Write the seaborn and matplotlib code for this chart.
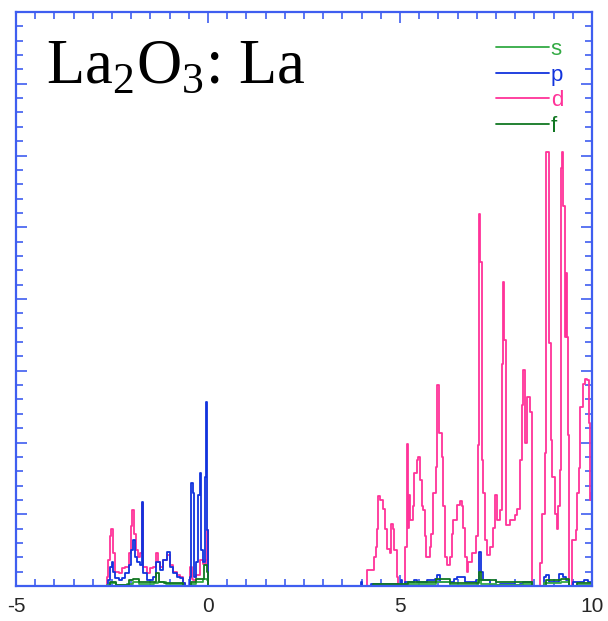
import numpy as np
import pandas as pd
import seaborn as sns
import matplotlib
matplotlib.use("Agg")
import matplotlib.pyplot as plt
from matplotlib.ticker import MultipleLocator

# ---------------- data ----------------
d_energy = [-2.66, -2.62, -2.60, -2.56, -2.52, -2.48, -2.42, -2.33, -2.25, -2.16, -2.07, -2.01,
            -1.97, -1.93, -1.88, -1.81, -1.77, -1.73, -1.69, -1.59, -1.51, -1.42, -1.35, -1.29,
            -1.25, -1.16, -1.07, -0.99, -0.90, -0.81, -0.73, -0.64, -0.60, -0.47, -0.42, -0.38,
            -0.30, -0.22, -0.12, -0.06, -0.03, 0.00,
            4.13, 4.31, 4.37, 4.39, 4.44, 4.48, 4.55, 4.61, 4.65, 4.74, 4.76, 4.81, 4.84, 4.91,
            4.96, 5.13, 5.17, 5.22, 5.23, 5.26, 5.35, 5.36, 5.43, 5.48, 5.52, 5.56, 5.61, 5.65,
            5.69, 5.78, 5.82, 5.87, 5.94, 5.97, 6.02, 6.09, 6.13, 6.17, 6.22, 6.29, 6.35, 6.39,
            6.48, 6.55, 6.61, 6.65, 6.69, 6.74, 6.78, 6.87, 6.98, 7.02, 7.06, 7.09, 7.13, 7.17,
            7.21, 7.27, 7.34, 7.41, 7.47, 7.52, 7.60, 7.65, 7.69, 7.71, 7.76, 7.87, 8.00, 8.04,
            8.12, 8.17, 8.21, 8.26, 8.30, 8.39, 8.43, 8.45, 8.64, 8.71, 8.78, 8.80, 8.88, 8.93,
            8.97, 9.04, 9.10, 9.12, 9.17, 9.18, 9.23, 9.25, 9.30, 9.32, 9.36, 9.38, 9.41, 9.47,
            9.58, 9.62, 9.67, 9.70, 9.77, 9.82, 9.88, 9.91, 9.94, 9.98, 10.0]
d_dos = [0.00, 0.13, 0.36, 0.69, 0.80, 0.46, 0.20, 0.18, 0.25, 0.27, 0.46, 0.83,
         1.06, 0.73, 0.50, 0.41, 0.46, 1.15, 0.27, 0.18, 0.25, 0.27, 0.46, 0.34,
         0.27, 0.36, 0.43, 0.29, 0.20, 0.15, 0.13, 0.04, 0.00, 0.27, 0.10, 0.08,
         0.15, 0.36, 0.30, 0.36, 0.78, 0.00,
         0.22, 0.41, 0.55, 0.80, 1.25, 1.20, 1.08, 0.80, 0.52, 0.46, 0.87, 0.80, 0.50, 0.13,
         0.00, 0.55, 1.98, 0.81, 1.27, 0.92, 1.11, 1.57, 1.76, 1.80, 1.48, 1.11, 1.06, 0.69,
         0.41, 0.55, 0.73, 1.29, 1.66, 2.80, 2.13, 1.80, 1.11, 0.41, 0.29, 0.41, 0.73, 0.92,
         1.13, 1.18, 1.11, 0.81, 0.41, 0.20, 0.34, 0.46, 0.69, 1.97, 5.19, 4.52, 1.76, 1.29,
         0.64, 0.43, 0.55, 0.81, 1.27, 0.92, 1.06, 3.10, 4.24, 3.43, 0.85, 0.92, 0.99, 1.08,
         1.76, 2.52, 3.01, 1.99, 2.64, 2.43, 0.57, 0.00, 0.32, 1.01, 1.85, 6.05, 3.38, 2.03,
         1.52, 1.01, 0.80, 1.11, 1.62, 5.82, 6.05, 5.29, 3.47, 4.36, 3.47, 2.10, 0.00, 0.64,
         0.78, 1.29, 1.64, 2.50, 2.82, 2.89, 2.87, 2.27, 1.20, 1.29, 1.29]

p_energy = [-2.66, -2.60, -2.55, -2.51, -2.47, -2.42, -2.33, -2.25, -2.16, -2.07, -2.00, -1.95,
            -1.91, -1.86, -1.77, -1.73, -1.69, -1.59, -1.42, -1.35, -1.25, -1.16, -1.07, -0.99,
            -0.90, -0.81, -0.73, -0.64, -0.60, -0.47, -0.44, -0.40, -0.36, -0.31, -0.27, -0.22,
            -0.18, -0.12, -0.08, -0.05, -0.02, 0.01,
            3.98, 4.02, 4.25, 4.96, 5.02, 5.05, 5.13, 5.36, 5.45, 5.70, 5.90, 5.97, 6.05, 6.40,
            6.48, 6.60, 6.69, 6.98, 7.06, 7.10, 7.17, 7.34, 7.60, 8.00, 8.12, 8.21, 8.45, 8.76,
            8.80, 8.88, 9.15, 9.25, 9.32, 9.41, 9.50, 9.80, 9.90, 10.0]
p_dos = [0.00, 0.08, 0.27, 0.34, 0.20, 0.11, 0.08, 0.11, 0.18, 0.29, 0.50, 0.64,
         0.41, 0.34, 0.29, 1.17, 0.18, 0.08, 0.13, 0.34, 0.22, 0.36, 0.48, 0.27,
         0.18, 0.13, 0.11, 0.04, 0.00, 0.13, 1.43, 1.29, 0.13, 0.34, 1.27, 1.57,
         0.50, 0.34, 1.52, 2.57, 0.78, 0.00,
         0.05, 0.00, 0.03, 0.00, 0.08, 0.00, 0.06, 0.08, 0.06, 0.08, 0.10, 0.15, 0.06, 0.10,
         0.13, 0.13, 0.06, 0.08, 0.48, 0.20, 0.08, 0.02, 0.03, 0.02, 0.03, 0.05, 0.00, 0.13,
         0.15, 0.05, 0.17, 0.13, 0.08, 0.00, 0.05, 0.08, 0.05, 0.05]

s_energy = [-2.62, -2.55, -2.40, -2.10, -1.95, -1.80, -1.40, -1.30, -1.10, -0.64,
            -0.45, -0.30, -0.12, -0.03, 0.00,
            4.30, 5.10, 5.95, 6.30, 7.04, 7.12, 7.50, 8.20, 8.45, 8.75, 9.20, 9.41, 9.60, 10.0]
s_dos = [0.02, 0.04, 0.02, 0.03, 0.05, 0.03, 0.04, 0.06, 0.03, 0.00,
         0.03, 0.05, 0.10, 0.08, 0.00,
         0.02, 0.03, 0.05, 0.02, 0.08, 0.03, 0.02, 0.03, 0.00, 0.04, 0.05, 0.00, 0.02, 0.02]

f_energy = [-2.62, -2.55, -2.40, -2.05, -1.95, -1.80, -1.45, -1.35, -1.28, -1.15, -0.65,
            -0.45, -0.30, -0.10, -0.03, 0.00,
            4.30, 5.20, 5.95, 6.30, 7.06, 7.12, 7.50, 8.20, 8.45, 8.80, 9.20, 9.41, 9.60, 10.0]
f_dos = [0.00, 0.06, 0.02, 0.08, 0.10, 0.06, 0.06, 0.18, 0.05, 0.04, 0.00,
         0.05, 0.10, 0.29, 0.20, 0.00,
         0.03, 0.05, 0.10, 0.04, 0.20, 0.08, 0.05, 0.06, 0.00, 0.08, 0.10, 0.00, 0.04, 0.04]

x_ticks = [-5, 0, 5, 10]
x_ticklabels = ["-5", "0", "5", "10"]
title_text = r"La$_\mathrm{2}$O$_\mathrm{3}$: La"

series = [("d", d_energy, d_dos, "#ff3399"),
          ("p", p_energy, p_dos, "#1133dd"),
          ("s", s_energy, s_dos, "#33aa44"),
          ("f", f_energy, f_dos, "#117722")]
legend_order = ["s", "p", "d", "f"]

# ---------------- figure ----------------
sns.set_style("white")
plt.rcParams["font.family"] = ["Liberation Sans", "DejaVu Sans"]
plt.rcParams["mathtext.fontset"] = "custom"
plt.rcParams["mathtext.rm"] = "Liberation Serif"

fig = plt.figure(figsize=(6.08, 6.21), dpi=100)
ax = fig.add_axes([16 / 608, 35 / 621, 576 / 608, 574 / 621])

axis_blue = "#3f5ef0"
for name, en, dos, col in series:
    df = pd.DataFrame({"E": en, "DOS": dos})
    sns.lineplot(data=df, x="E", y="DOS", ax=ax, color=col, lw=1.3,
                 drawstyle="steps-post", sort=False, estimator=None, label=name)

ax.set_xlim(-5, 10)
ax.set_ylim(0, 8)
ax.set_xlabel("")
ax.set_ylabel("")
ax.set_xticks(x_ticks)
ax.set_xticklabels(x_ticklabels, fontsize=15)
ax.xaxis.set_minor_locator(MultipleLocator(0.5))
ax.yaxis.set_major_locator(MultipleLocator(1))
ax.yaxis.set_minor_locator(MultipleLocator(0.2))
ax.tick_params(which="both", direction="in", color=axis_blue, top=True, right=True,
               bottom=True, left=True, labelleft=False, width=1.2)
ax.tick_params(which="major", length=8, pad=8)
ax.tick_params(which="minor", length=5)
for sp in ax.spines.values():
    sp.set_color(axis_blue)
    sp.set_linewidth(1.6)

ax.text(0.052, 0.877, title_text, transform=ax.transAxes, fontsize=45,
        family="Liberation Serif", color="black", ha="left", va="baseline")

handles, labels = ax.get_legend_handles_labels()
hmap = dict(zip(labels, handles))
leg = ax.legend([hmap[k] for k in legend_order], legend_order, loc="upper right",
                bbox_to_anchor=(0.969, 0.972), frameon=False, fontsize=16,
                handlelength=2.4, handletextpad=0.08, labelspacing=0.2, borderpad=0)
colmap = {n: c for n, _, _, c in series}
for t, k in zip(leg.get_texts(), legend_order):
    t.set_color(colmap[k])

fig.savefig("out.png", dpi=100)
